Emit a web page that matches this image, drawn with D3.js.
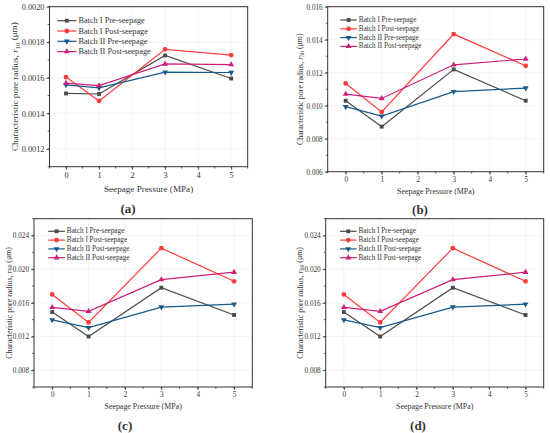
<!DOCTYPE html>
<html>
<head>
<meta charset="utf-8">
<script src="https://cdn.jsdelivr.net/npm/d3@7"></script>
<style>
  body { margin: 0; background: #fff; }
  text { font-family: "Liberation Serif", "Times New Roman", serif; fill: #333; }
</style>
</head>
<body>
<div id="chart"></div>
<script>
// seepage pressure (MPa)
const pressures = [0, 1, 3, 5]
const xTicks = [0, 1, 2, 3, 4, 5]

// (a) r10
const r10BatchIPre = [0.001512, 0.001509, 0.001726, 0.001596]
const r10BatchIPost = [0.001604, 0.00147, 0.00176, 0.001728]
const r10BatchIIPre = [0.00156, 0.001543, 0.001632, 0.00163]
const r10BatchIIPost = [0.00157, 0.001556, 0.001678, 0.001674]

// (b) r50
const r50BatchIPre = [0.0103, 0.00873, 0.0122, 0.0103]
const r50BatchIPost = [0.01135, 0.00962, 0.01434, 0.01242]
const r50BatchIIPre = [0.00994, 0.00937, 0.01085, 0.01107]
const r50BatchIIPost = [0.0107, 0.01044, 0.01248, 0.01283]

// (c) and (d) r60
const r60BatchIPre = [0.01491, 0.0120, 0.0178, 0.01456]
const r60BatchIPost = [0.0170, 0.01367, 0.0225, 0.01856]
const r60BatchIIPre = [0.01398, 0.01305, 0.0155, 0.01584]
const r60BatchIIPost = [0.01546, 0.01499, 0.01876, 0.01964]

const legendAB = ["Batch I Pre-seepage", "Batch I Post-seepage", "Batch II Pre-seepage", "Batch II Post-seepage"]
const legendCD = ["Batch I Pre-seepage", "Batch I Post-seepage", "Batch II Post-seepage", "Batch II Post-seepage"]

const yTicksA = [0.0012, 0.0014, 0.0016, 0.0018, 0.0020]
const yTicksB = [0.006, 0.008, 0.010, 0.012, 0.014, 0.016]
const yTicksC = [0.008, 0.012, 0.016, 0.020, 0.024]

const colors = ["#4a4a4a", "#ff3b3b", "#17598a", "#cc1f7a"]
const shapes = [d3.symbolSquare, d3.symbolCircle, d3.symbolTriangle, d3.symbolTriangle]
const rotations = [0, 0, 180, 0]

const panels = [
    { tag: "(a)", sub: "10", series: [r10BatchIPre, r10BatchIPost, r10BatchIIPre, r10BatchIIPost], names: legendAB,
      yTicks: yTicksA, yDomain: [0.0011, 0.0020], yMinor: 0.0001, fmt: ".4f",
      left: 49.5, right: 247.7, top: 6.7, bottom: 166.7, fs: 8.3, ylabX: 15, tagX: 128, tagY: 208,
      legX: 57.3, legY: 20.7, legDy: 10.3 },
    { tag: "(b)", sub: "50", series: [r50BatchIPre, r50BatchIPost, r50BatchIIPre, r50BatchIIPost], names: legendAB,
      yTicks: yTicksB, yDomain: [0.006, 0.016], yMinor: 0.001, fmt: ".3f",
      left: 327.7, right: 543.7, top: 6.7, bottom: 171.7, fs: 7.2, ylabX: 300, tagX: 420, tagY: 209,
      legX: 340.3, legY: 20, legDy: 8.8 },
    { tag: "(c)", sub: "60", series: [r60BatchIPre, r60BatchIPost, r60BatchIIPre, r60BatchIIPost], names: legendCD,
      yTicks: yTicksC, yDomain: [0.006, 0.026], yMinor: 0.002, fmt: ".3f",
      left: 34, right: 252.3, top: 218.7, bottom: 387, fs: 7.2, ylabX: 8.5, tagX: 125, tagY: 425,
      legX: 48.3, legY: 231.3, legDy: 8.8 },
    { tag: "(d)", sub: "60", series: [r60BatchIPre, r60BatchIPost, r60BatchIIPre, r60BatchIIPost], names: legendCD,
      yTicks: yTicksC, yDomain: [0.006, 0.026], yMinor: 0.002, fmt: ".3f",
      left: 325.7, right: 543.7, top: 218.7, bottom: 387, fs: 7.2, ylabX: 300, tagX: 418, tagY: 425,
      legX: 340, legY: 231.3, legDy: 8.8 }
]

var svg = d3.select("#chart")
    .append("svg")
    .attr("width", 550)
    .attr("height", 433)

panels.forEach(drawPanel)

function drawPanel(p) {
    var g = svg.append("g")
    var x = d3.scaleLinear().domain([-0.5, 5.5]).range([p.left, p.right])
    var y = d3.scaleLinear().domain(p.yDomain).range([p.bottom, p.top])

    // faint grid
    g.selectAll(".gx").data(xTicks).enter().append("line")
        .attr("x1", d => x(d)).attr("x2", d => x(d))
        .attr("y1", p.top).attr("y2", p.bottom)
        .attr("stroke", "#eeeeee").attr("stroke-width", 0.6)
    g.selectAll(".gy").data(p.yTicks).enter().append("line")
        .attr("x1", p.left).attr("x2", p.right)
        .attr("y1", d => y(d)).attr("y2", d => y(d))
        .attr("stroke", "#eeeeee").attr("stroke-width", 0.6)

    // axes
    var xAxis = d3.axisBottom(x).tickValues(xTicks).tickSize(3).tickPadding(2).tickFormat(d3.format("d"))
    var xa = g.append("g").attr("transform", "translate(0," + p.bottom + ")").call(xAxis)
    var yAxis = d3.axisLeft(y).tickValues(p.yTicks).tickSize(3).tickPadding(2).tickFormat(d3.format(p.fmt))
    var ya = g.append("g").attr("transform", "translate(" + p.left + ",0)").call(yAxis)

    // minor ticks
    var minors = d3.range(p.yDomain[0], p.yDomain[1] + 1e-9, p.yMinor)
    g.selectAll(".my").data(minors).enter().append("line")
        .attr("x1", p.left - 1.8).attr("x2", p.left)
        .attr("y1", d => y(d)).attr("y2", d => y(d))
        .attr("stroke", "#333").attr("stroke-width", 0.8)
    g.selectAll(".mx").data(d3.range(-0.5, 5.6, 0.5)).enter().append("line")
        .attr("x1", d => x(d)).attr("x2", d => x(d))
        .attr("y1", p.bottom).attr("y2", p.bottom + 1.8)
        .attr("stroke", "#333").attr("stroke-width", 0.8)

    ;[xa, ya].forEach(a => {
        a.select(".domain").remove()
        a.selectAll("line").attr("stroke", "#333").attr("stroke-width", 0.8)
        a.selectAll("text").style("font-family", '"Liberation Serif", serif')
            .style("font-size", p.fs + "px").attr("fill", "#444")
    })

    // frame
    g.append("rect")
        .attr("x", p.left).attr("y", p.top)
        .attr("width", p.right - p.left).attr("height", p.bottom - p.top)
        .attr("fill", "none").attr("stroke", "#333").attr("stroke-width", 1)

    // series
    var line = d3.line().x((d, i) => x(pressures[i])).y(d => y(d))
    p.series.forEach((vals, s) => {
        g.append("path").datum(vals)
            .attr("d", line)
            .attr("fill", "none").attr("stroke", colors[s]).attr("stroke-width", 1.2)
        g.selectAll(".pt" + s).data(vals).enter().append("path")
            .attr("d", d3.symbol().type(shapes[s]).size(s == 1 ? 18 : 15))
            .attr("transform", (d, i) => "translate(" + x(pressures[i]) + "," + y(d) + ") rotate(" + rotations[s] + ")")
            .attr("fill", colors[s])
    })

    // legend
    p.names.forEach((name, s) => {
        var ly = p.legY + s * p.legDy
        var lw = p.fs * 2.3
        g.append("line")
            .attr("x1", p.legX).attr("x2", p.legX + lw)
            .attr("y1", ly).attr("y2", ly)
            .attr("stroke", colors[s]).attr("stroke-width", 1.2)
        g.append("path")
            .attr("d", d3.symbol().type(shapes[s]).size(s == 1 ? 18 : 15))
            .attr("transform", "translate(" + (p.legX + lw / 2) + "," + ly + ") rotate(" + rotations[s] + ")")
            .attr("fill", colors[s])
        g.append("text")
            .attr("x", p.legX + lw + 2).attr("y", ly)
            .attr("dominant-baseline", "central")
            .style("font-size", p.fs + "px")
            .text(name)
    })

    // axis titles
    g.append("text")
        .attr("x", (p.left + p.right) / 2).attr("y", p.bottom + 2.7 * p.fs)
        .attr("text-anchor", "middle").attr("dominant-baseline", "central")
        .style("font-size", (p.fs * 1.1) + "px")
        .text("Seepage Pressure (MPa)")

    var yl = g.append("text")
        .attr("transform", "translate(" + p.ylabX + "," + ((p.top + p.bottom) / 2) + ") rotate(-90)")
        .attr("text-anchor", "middle").attr("dominant-baseline", "central")
        .style("font-size", (p.fs * 1.1) + "px")
    yl.append("tspan").text("Characteristic pore radius, ")
    yl.append("tspan").style("font-style", "italic").text("r")
    yl.append("tspan").attr("dy", "0.3em").style("font-size", (p.fs * 0.8) + "px").text(p.sub)
    yl.append("tspan").attr("dy", "-0.3em").text(" (\u03bcm)")

    // panel tag
    g.append("text")
        .attr("x", p.tagX).attr("y", p.tagY)
        .attr("text-anchor", "middle").attr("dominant-baseline", "central")
        .style("font-size", "13px").style("font-weight", "bold").attr("fill", "#111")
        .text(p.tag)
}
</script>
</body>
</html>
